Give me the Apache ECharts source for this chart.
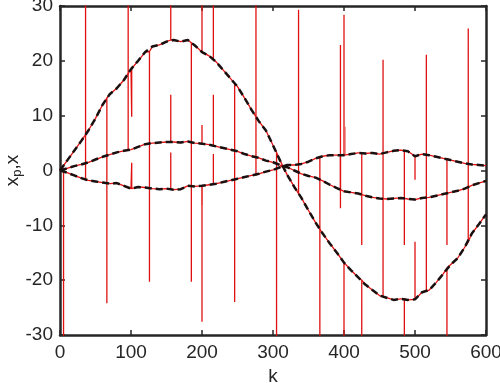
<!DOCTYPE html>
<html>
<head>
<meta charset="utf-8">
<script src="https://cdn.jsdelivr.net/npm/echarts@6/dist/echarts.min.js"></script>
<style>
html, body { margin: 0; padding: 0; background: #fff; }
#chart { width: 500px; height: 383px; }
</style>
</head>
<body>
<div id="chart"></div>
<script>
// sample points k and the three state curves
var kSteps = [0, 10, 20, 30, 40, 50, 60, 70, 80, 90, 100, 110, 120, 130, 140, 150, 160, 170, 180, 190,
    200, 210, 220, 230, 240, 250, 260, 270, 280, 290, 300, 310, 320, 330, 340, 350, 360, 370, 380, 390,
    400, 410, 420, 430, 440, 450, 460, 470, 480, 490, 500, 510, 520, 530, 540, 550, 560, 570, 580, 590, 600];
var curveA = [0, 1.8, 3.6, 5.4, 7.3, 9.5, 12.0, 13.9, 15.0, 16.5, 18.5, 20.0, 21.6, 22.6, 22.9, 23.5, 23.8, 23.5, 23.8, 22.8,
    21.6, 20.9, 19.8, 18.3, 16.8, 15.3, 13.2, 11.0, 9.0, 7.3, 4.6, 1.8, -0.8, -3.0, -5.0, -7.3, -9.5, -11.5, -13.3, -15.0,
    -16.8, -18.2, -19.5, -20.8, -21.8, -22.8, -23.2, -23.6, -23.4, -23.6, -23.5, -22.2, -21.8, -20.4, -18.8, -17.2, -16.0, -14.0, -11.5, -9.8, -8.0];
var curveB = [0, 0.4, 0.8, 1.1, 1.5, 2.0, 2.5, 2.9, 3.3, 3.6, 3.8, 4.3, 4.8, 5.0, 5.1, 5.2, 5.2, 5.1, 5.3, 5.0,
    4.9, 4.7, 4.4, 4.1, 3.8, 3.5, 3.0, 2.6, 2.3, 1.8, 1.5, 1.0, 0.6, 0.0, -0.6, -1.0, -1.3, -1.9, -2.6, -3.2,
    -3.8, -4.0, -4.2, -4.6, -4.9, -5.1, -5.2, -5.1, -5.0, -5.2, -5.3, -5.0, -4.9, -4.6, -4.3, -4.0, -3.7, -3.3, -2.7, -2.3, -1.9];
var curveC = [0, -0.4, -0.9, -1.4, -1.8, -2.0, -2.2, -2.4, -2.3, -2.8, -3.3, -3.0, -3.1, -3.3, -3.4, -3.3, -3.5, -3.4, -2.8, -2.9,
    -2.8, -2.6, -2.4, -2.1, -1.8, -1.5, -1.2, -0.9, -0.6, -0.2, 0.1, 0.6, 1.0, 1.0, 1.2, 1.6, 2.2, 2.6, 2.8, 2.8,
    2.8, 3.0, 3.2, 3.1, 3.2, 3.0, 3.3, 3.6, 3.7, 3.5, 2.6, 3.0, 2.8, 2.5, 2.2, 1.9, 1.6, 1.3, 1.1, 1.0, 0.9];

// outliers in the measured signal: [k, curve value, outlier value]
var spikesA = [[66, 13.2, -24.2], [101, 18.6, 9.8], [126, 21.7, -20.3], [156, 23.8, 40], [185, 23.3, -20.3],
    [200, 21.6, 40], [216, 20.3, 40], [246, 15.9, -24], [305, 3.3, -40], [336, -4.2, 29.3], [400, -16.8, -40],
    [425, -20.0, -40], [455, -23.0, 20.2], [485, -23.4, -40], [500, -23.5, -13], [516, -22.0, 21.1],
    [545, -17.8, -40], [575, -13.0, 25.9]];
var spikesB = [[96, 3.7, 40], [156, 5.2, 13.8], [200, 4.9, 8.3], [216, 4.5, 13.8], [395, -3.5, 22.9]];
var spikesC = [[5, -0.2, -40], [36, -1.7, 40], [101, -3.3, 1.4], [156, -3.4, 3.3], [200, -2.8, -27.6],
    [216, -2.5, 3], [276, -0.8, 40], [366, 2.4, -40], [395, 2.8, -6.9], [400, 2.8, 28.4], [425, 3.2, -13.6],
    [485, 3.6, -13.6], [500, 2.6, -1.7], [545, 2.1, -13.6]];
// faint glitches of the light red trace
var faintSpikes = [[200, -2.6, -6.3], [402, 2.8, 8.0]];

var axisColor = '#262626';
var red = '#e01010';

function curvePoints(curve) {
    return kSteps.map(function (k, i) { return [k, curve[i]]; });
}

function withSpikes(curve, spikes) {
    var pts = curvePoints(curve);
    spikes.forEach(function (s) {
        pts.push([s[0], s[1]], [s[0], s[2]], [s[0], s[1]]);
    });
    return pts.map(function (p, i) { return { p: p, i: i }; })
        .sort(function (a, b) { return a.p[0] - b.p[0] || a.i - b.i; })
        .map(function (o) { return o.p; });
}

function redLine(data) {
    return {
        type: 'line', data: data, symbol: 'none', clip: true,
        lineStyle: { color: red, width: 1.3 }, z: 2
    };
}

function blackDash(data) {
    return {
        type: 'line', data: data, symbol: 'none', clip: true,
        lineStyle: { color: '#1a1010', width: 2.5, type: [7, 4] }, z: 3
    };
}

var faintSeries = faintSpikes.map(function (s) {
    return {
        type: 'line', data: [[s[0], s[1]], [s[0], s[2]]], symbol: 'none', clip: true,
        lineStyle: { color: '#f09a9a', width: 1.2 }, z: 1
    };
});

var myChart = echarts.init(document.getElementById('chart'));

var labelFont = { fontFamily: 'Liberation Sans', fontSize: 19, color: axisColor };

option = {
    animation: false,
    backgroundColor: '#fff',
    grid: { left: 60, right: 14, top: 6, bottom: 48, outerBoundsMode: 'none' },
    xAxis: [
        {
            type: 'value', min: 0, max: 600, interval: 100,
            name: 'k', nameLocation: 'middle', nameGap: 30,
            nameTextStyle: labelFont,
            axisLine: { onZero: false, lineStyle: { color: axisColor, width: 2.5 } },
            axisTick: { inside: true, length: 5, lineStyle: { color: axisColor, width: 1.5 } },
            axisLabel: Object.assign({ margin: 8 }, labelFont),
            splitLine: { show: false }
        },
        {
            type: 'value', min: 0, max: 600, interval: 100, position: 'top',
            axisLine: { onZero: false, lineStyle: { color: axisColor, width: 2.5 } },
            axisTick: { inside: true, length: 5, lineStyle: { color: axisColor, width: 1.5 } },
            axisLabel: { show: false },
            splitLine: { show: false }
        }
    ],
    yAxis: [
        {
            type: 'value', min: -30, max: 30, interval: 10,
            name: '{a|x}{s|p}{a|,x}', nameLocation: 'middle', nameGap: 36, nameMoveOverlap: false,
            nameTextStyle: {
                rich: {
                    a: { fontFamily: 'Liberation Sans', fontSize: 19, color: axisColor },
                    s: { fontFamily: 'Liberation Sans', fontSize: 13, color: axisColor, verticalAlign: 'bottom', padding: [9, 0, 0, 0] }
                }
            },
            axisLine: { onZero: false, lineStyle: { color: axisColor, width: 2.5 } },
            axisTick: { inside: true, length: 5, lineStyle: { color: axisColor, width: 1.5 } },
            axisLabel: Object.assign({ margin: 7 }, labelFont),
            splitLine: { show: false }
        },
        {
            type: 'value', min: -30, max: 30, interval: 10, position: 'right',
            axisLine: { onZero: false, lineStyle: { color: axisColor, width: 2.5 } },
            axisTick: { inside: true, length: 5, lineStyle: { color: axisColor, width: 1.5 } },
            axisLabel: { show: false },
            splitLine: { show: false }
        }
    ],
    series: faintSeries.concat([
        redLine(withSpikes(curveA, spikesA)),
        redLine(withSpikes(curveB, spikesB)),
        redLine(withSpikes(curveC, spikesC)),
        blackDash(curvePoints(curveA)),
        blackDash(curvePoints(curveB)),
        blackDash(curvePoints(curveC))
    ])
};

myChart.setOption(option);
</script>
</body>
</html>
